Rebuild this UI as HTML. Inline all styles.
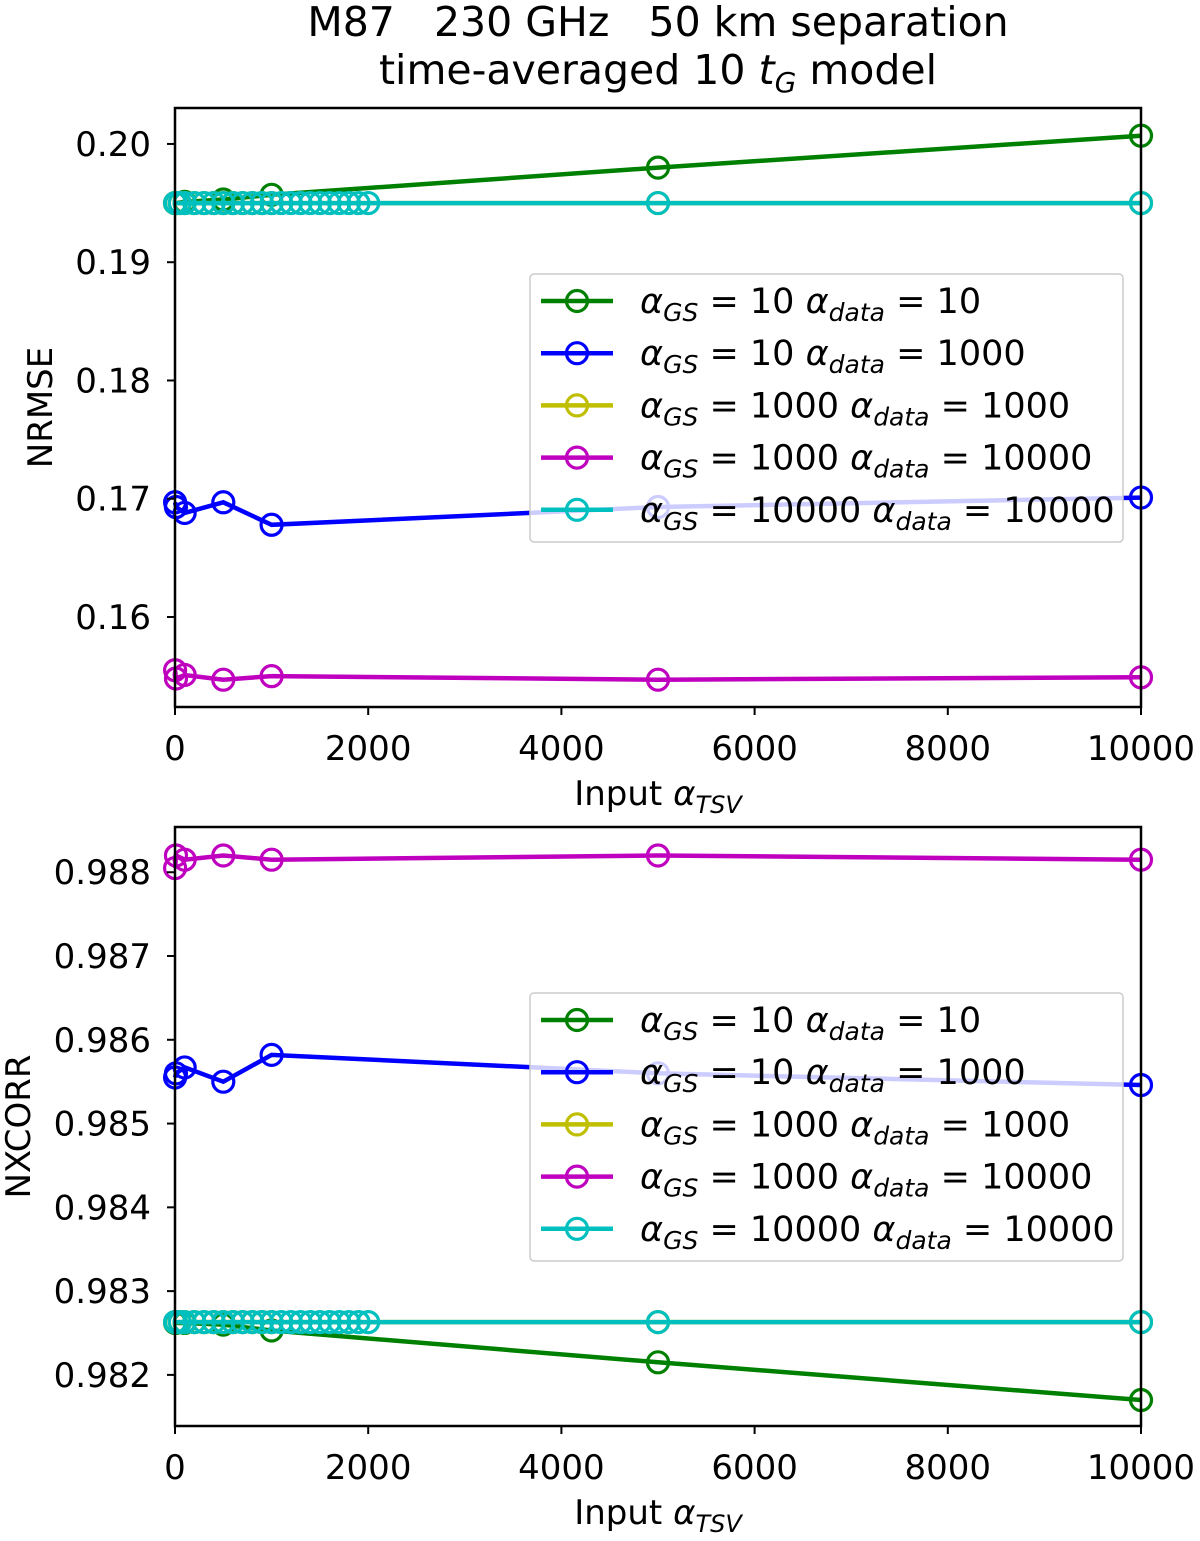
<!DOCTYPE html>
<html><head><meta charset="utf-8"><style>
body{margin:0;background:#fff}
svg text{font-family:"DejaVu Sans","Liberation Sans",sans-serif;fill:#000}
</style></head><body>
<svg id="chart" width="1200" height="1536" viewBox="0 0 1200 1536" xmlns="http://www.w3.org/2000/svg">
<text x="658" y="36" font-size="41" text-anchor="middle" xml:space="preserve">M87   230 GHz   50 km separation</text>
<text x="658" y="84" font-size="41" text-anchor="middle">time-averaged 10 <tspan font-style="italic">t</tspan><tspan font-style="italic" font-size="28" dy="8">G</tspan><tspan dy="-8"> model</tspan></text>
</svg>
<script>
const NS='http://www.w3.org/2000/svg';
const svg=document.getElementById('chart');
const seriesNames=['g10d10','g10d1000','g1000d1000','g1000d10000','g10000d10000'];
const colors=['#008000','#0000ff','#bfbf00','#bf00bf','#00bfbf'];
const legendGS=['10','10','1000','1000','10000'];
const legendData=['10','1000','1000','10000','10000'];
const xSparse=[1,10,100,500,1000,5000,10000];
const xYellow=[1,10,50,100,200,300,400,500,600,700,800,900,1000,5000,10000];
const xCyan=[1,10,50,100,200,300,400,500,600,700,800,900,1000,1100,1200,1300,1400,1500,1600,1700,1800,1900,2000,5000,10000];
// NRMSE
const nrmseGreen=[0.1950,0.1950,0.1951,0.1953,0.1957,0.1980,0.2007];
const nrmseBlue=[0.1697,0.1693,0.1688,0.1697,0.1678,0.1693,0.1701];
const nrmseYellow=xYellow.map(()=>0.1950);
const nrmseMagenta=[0.1555,0.1548,0.1551,0.1547,0.1550,0.1547,0.1549];
const nrmseCyan=xCyan.map(()=>0.1950);
// NXCORR
const nxGreen=[0.98262,0.98262,0.98262,0.98260,0.98253,0.98215,0.98170];
const nxBlue=[0.98555,0.98560,0.98567,0.98550,0.98582,0.98560,0.98546];
const nxYellow=xYellow.map(()=>0.98263);
const nxMagenta=[0.98805,0.98820,0.98815,0.98820,0.98815,0.98820,0.98815];
const nxCyan=xCyan.map(()=>0.98263);
const xTicks=[0,2000,4000,6000,8000,10000];
const nrmseTicks=[0.16,0.17,0.18,0.19,0.20];
const nxTicks=[0.982,0.983,0.984,0.985,0.986,0.987,0.988];

function el(tag,attrs,parent){const e=document.createElementNS(NS,tag);for(const k in attrs)e.setAttribute(k,attrs[k]);(parent||svg).appendChild(e);return e;}

function panel(cfg){
  const L=175,R=1141,T=cfg.top,B=cfg.bottom;
  const xs=v=>L+(v-0)/10000*(R-L);
  const ys=v=>B-(v-cfg.ymin)/(cfg.ymax-cfg.ymin)*(B-T);
  const g=el('g',{});
  
  
  const clip=el('clipPath',{id:cfg.name+'-clip'},g);
  el('rect',{x:L-15,y:T-15,width:R-L+30,height:B-T+30},clip);
  const data=el('g',{'clip-path':'url(#'+cfg.name+'-clip)'},g);
  cfg.series.forEach((s,i)=>{
    const sg=el('g',{},data);
    
    
    const pts=s.x.map((x,j)=>xs(x).toFixed(1)+','+ys(s.y[j]).toFixed(1)).join(' ');
    el('polyline',{points:pts,fill:'none',stroke:colors[i],'stroke-width':4.5},sg);
    s.x.forEach((x,j)=>{
      const c=el('circle',{cx:xs(x),cy:ys(s.y[j]),r:10.5,fill:'none',stroke:colors[i],'stroke-width':3.2},sg);
      
      
    });
  });
  const f=el('rect',{x:L,y:T,width:R-L,height:B-T,fill:'none',stroke:'#000','stroke-width':2.5},g);
  
  
  xTicks.forEach(t=>{
    el('line',{x1:xs(t),x2:xs(t),y1:B,y2:B+8,stroke:'#000','stroke-width':2},g);
    const tx=el('text',{x:xs(t),y:B+53,'font-size':34,'text-anchor':'middle'},g);
    tx.textContent=t;
    
    
  });
  cfg.ticks.forEach(t=>{
    el('line',{x1:L-8,x2:L,y1:ys(t),y2:ys(t),stroke:'#000','stroke-width':2},g);
    const ty=el('text',{x:L-24,y:ys(t)+12,'font-size':34,'text-anchor':'end'},g);
    ty.textContent=t.toFixed(cfg.dec);
    
    
  });
  const xl=el('text',{x:658,y:B+98,'font-size':34,'text-anchor':'middle'},g);
  xl.innerHTML='Input <tspan font-style="italic">α</tspan><tspan font-style="italic" font-size="24" dy="8">TSV</tspan>';
  
  
  const yl=el('text',{x:0,y:0,'font-size':34,'text-anchor':'middle',transform:'translate('+cfg.ylx+','+((T+B)/2)+') rotate(-90)'},g);
  yl.textContent=cfg.ylabel;
  
  
  const lg=el('g',{},g);
  
  
  el('rect',{x:530,y:cfg.legTop,width:593,height:268,rx:4,fill:'#fff','fill-opacity':0.8,stroke:'#ccc','stroke-width':1.5},lg);
  for(let i=0;i<5;i++){
    const y=cfg.legTop+27+i*52.2;
    const e=el('g',{},lg);
    
    
    el('line',{x1:541,x2:613,y1:y,y2:y,stroke:colors[i],'stroke-width':4.5},e);
    el('circle',{cx:577,cy:y,r:10.5,fill:'none',stroke:colors[i],'stroke-width':3.2},e);
    const t=el('text',{x:640,y:y+12,'font-size':35},e);
    t.innerHTML='<tspan font-style="italic">α</tspan><tspan font-style="italic" font-size="25" dy="8">GS</tspan><tspan dy="-8"> = '+legendGS[i]+' </tspan><tspan font-style="italic">α</tspan><tspan font-style="italic" font-size="25" dy="8">data</tspan><tspan dy="-8"> = '+legendData[i]+'</tspan>';
  }
}
panel({name:'nrmse-panel',top:108,bottom:707,ymin:0.15239,ymax:0.20304,ticks:nrmseTicks,dec:2,ylabel:'NRMSE',ylx:52,legTop:274,
  series:[{x:xSparse,y:nrmseGreen},{x:xSparse,y:nrmseBlue},{x:xYellow,y:nrmseYellow},{x:xSparse,y:nrmseMagenta},{x:xCyan,y:nrmseCyan}]});
panel({name:'nxcorr-panel',top:827,bottom:1426,ymin:0.98139,ymax:0.98854,ticks:nxTicks,dec:3,ylabel:'NXCORR',ylx:30,legTop:993,
  series:[{x:xSparse,y:nxGreen},{x:xSparse,y:nxBlue},{x:xYellow,y:nxYellow},{x:xSparse,y:nxMagenta},{x:xCyan,y:nxCyan}]});
</script>
</body></html>
